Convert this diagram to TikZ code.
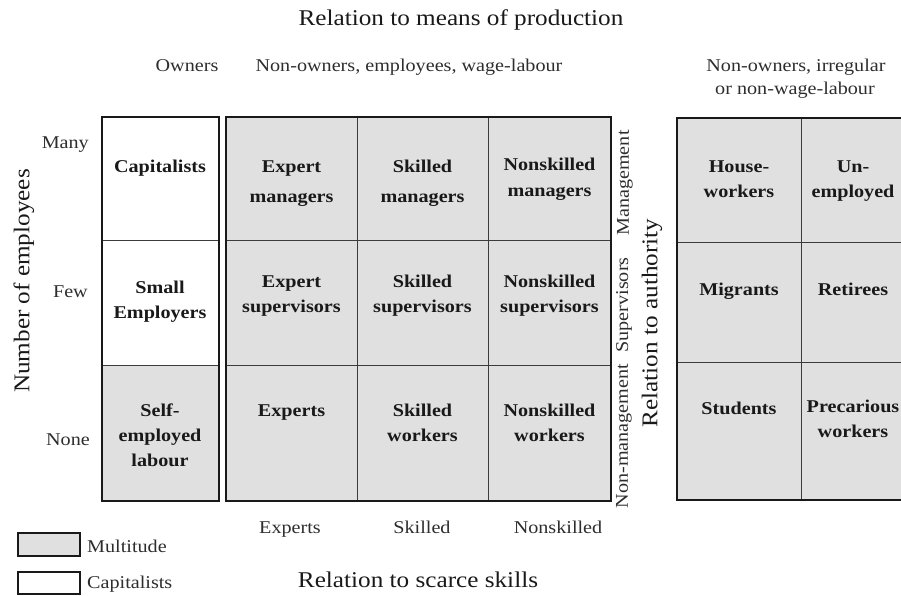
\documentclass[tikz,border=0pt]{standalone}
\usepackage{fontspec}
\setmainfont{Liberation Serif}[FakeStretch=1.12]
\definecolor{cellgray}{RGB}{224,224,224}
\definecolor{ink}{RGB}{25,25,25}
\definecolor{soft}{RGB}{45,45,45}
\tikzset{
  thickbox/.style={draw=ink, line width=2pt},
  thinline/.style={draw=ink!85, line width=1pt},
  celltxt/.style={font=\fontsize{18}{25}\selectfont\bfseries, align=center, anchor=base, inner sep=0pt, text=ink},
  lbl/.style={font=\fontsize{18}{24}\selectfont, inner sep=0pt, text=soft},
  biglbl/.style={font=\fontsize{22.5}{26}\selectfont, inner sep=0pt, text=ink},
}
\begin{document}
\begin{tikzpicture}[x=1pt, y=-1pt]
\useasboundingbox (0,0) rectangle (901,596);
% fills
\fill[cellgray] (102,365) rectangle (219,501);
\fill[cellgray] (226,117) rectangle (611,501);
\fill[cellgray] (677,118) rectangle (912,500);
% inner lines
\draw[thinline] (102,240) -- (219,240);
\draw[thinline] (102,365) -- (219,365);
\draw[thinline] (226,240) -- (611,240);
\draw[thinline] (226,365) -- (611,365);
\draw[thinline] (357,117) -- (357,501);
\draw[thinline] (488,117) -- (488,501);
\draw[thinline] (677,242) -- (912,242);
\draw[thinline] (677,362) -- (912,362);
\draw[thinline] (801,118) -- (801,500);
% outer boxes
\draw[thickbox] (102,117) rectangle (219,501);
\draw[thickbox] (226,117) rectangle (611,501);
\draw[thickbox] (677,118) rectangle (912,500);
% headings
\node[biglbl, anchor=base] (title) at (461,26) {Relation to means of production};
\node[lbl, anchor=base] (owners) at (187,72) {Owners};
\node[lbl, anchor=base] (nonown) at (409,72) {Non-owners, employees, wage-labour};
\node[lbl, anchor=base] (irr1) at (796,72) {Non-owners, irregular};
\node[lbl, anchor=base] (irr2) at (795,95) {or non-wage-labour};
% rows
\node[lbl, anchor=base east] (many) at (89,149) {Many};
\node[lbl, anchor=base east] (few) at (88,297) {Few};
\node[lbl, anchor=base east] (none) at (90,445) {None};
\node[biglbl, rotate=90] (numemp) at (24,281) {Number of employees};
% left column (anchor base = last line)
\node[celltxt] (cap) at (160,172) {Capitalists};
\node[celltxt] (small) at (160,318) {Small\\Employers};
\node[celltxt] (self) at (160,466) {Self-\\employed\\labour};
% middle grid
\node[celltxt] (em) at (291.5,202) {Expert\\[5pt]managers};
\node[celltxt] (sm) at (422.5,202) {Skilled\\[5pt]managers};
\node[celltxt] (nm) at (549.5,196) {Nonskilled\\managers};
\node[celltxt] (es) at (291.5,312) {Expert\\supervisors};
\node[celltxt] (ss) at (422.5,312) {Skilled\\supervisors};
\node[celltxt] (ns) at (549.5,312) {Nonskilled\\supervisors};
\node[celltxt] (ex) at (291.5,416) {Experts};
\node[celltxt] (sw) at (422.5,441) {Skilled\\workers};
\node[celltxt] (nw) at (549.5,441) {Nonskilled\\workers};
% right grid
\node[celltxt] (hw) at (739,197) {House-\\workers};
\node[celltxt] (un) at (853,197) {Un-\\employed};
\node[celltxt] (mi) at (739,295) {Migrants};
\node[celltxt] (re) at (853,295) {Retirees};
\node[celltxt] (st) at (739,414) {Students};
\node[celltxt] (pw) at (853,437) {Precarious\\workers};
% authority labels
\node[lbl, rotate=90] (mgmt) at (625,183) {Management};
\node[lbl, rotate=90] (sup) at (624,305) {Supervisors};
\node[lbl, rotate=90] (nonm) at (624,436) {Non-management};
\node[biglbl, rotate=90] (auth) at (652,323) {Relation to authority};
% skills
\node[lbl, anchor=base] (sx) at (290,533) {Experts};
\node[lbl, anchor=base] (sk) at (422,533) {Skilled};
\node[lbl, anchor=base] (sn) at (558,533) {Nonskilled};
\node[biglbl, anchor=base] (scarce) at (418,587) {Relation to scarce skills};
% legend
\draw[fill=cellgray, draw=ink, line width=1.2pt] (18,533) rectangle (80,556);
\draw[fill=white, draw=ink, line width=1.2pt] (18,572) rectangle (80,594);
\node[lbl, anchor=base west] (lm) at (87,552) {Multitude};
\node[lbl, anchor=base west] (lc) at (87,588) {Capitalists};
\end{tikzpicture}
\end{document}
